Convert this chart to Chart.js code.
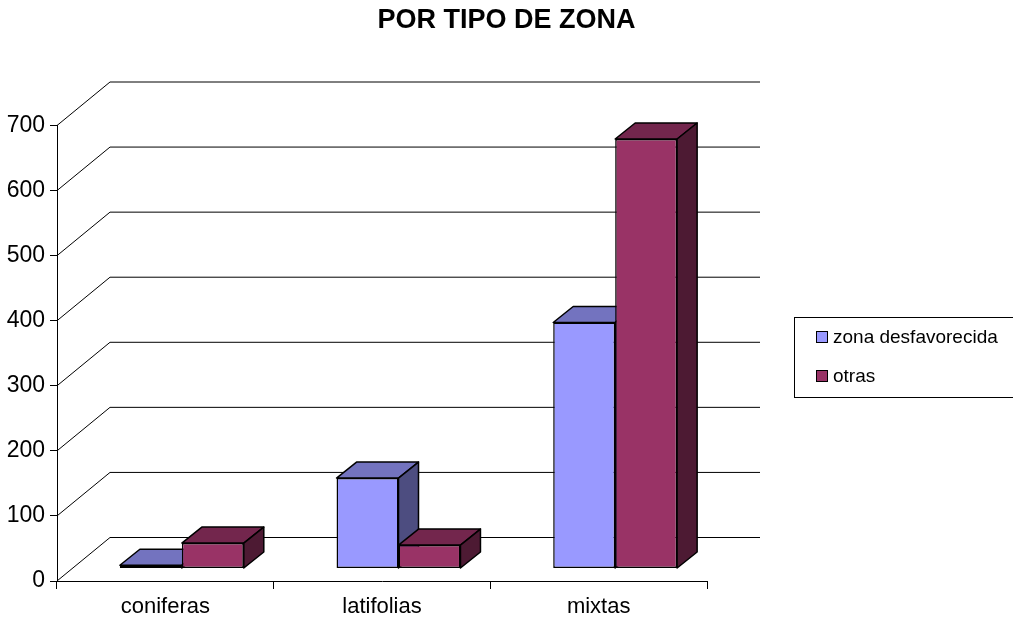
<!DOCTYPE html>
<html lang="es">
<head>
<meta charset="UTF-8" />
<title>Por tipo de zona</title>
<script src="https://cdn.jsdelivr.net/npm/chart.js"></script>
<style>
  html, body { margin: 0; padding: 0; background: #fff; }
  canvas { display: block; }
</style>
</head>
<body>
<canvas id="zonaChart" width="1013" height="621"></canvas>
<script>
  const categories = ['coniferas', 'latifolias', 'mixtas'];
  const seriesNames = ['zona desfavorecida', 'otras'];
  const zonaDesfavorecida = [5, 139, 378];
  const otras = [39, 36, 660];
  const yMax = 700;
  const yStep = 100;
  const chartTitle = 'POR TIPO DE ZONA';

  const FONT = 'Arial, "Liberation Sans", sans-serif';
  const colors = ['#9999FF', '#993366'];

  // fake 3d: offsets in pixels
  const WALL = { dx: 53, dy: -43.5 };      // front plane -> back wall
  const BAR_POS = { dx: 16.5, dy: -12.5 }; // front plane -> bar front faces
  const BAR_DEPTH = { dx: 20, dy: -16 };   // bar front -> bar back

  function shade(hex, f) {
    const n = parseInt(hex.slice(1), 16);
    const r = Math.round(((n >> 16) & 255) * f);
    const g = Math.round(((n >> 8) & 255) * f);
    const b = Math.round((n & 255) * f);
    return `rgb(${r},${g},${b})`;
  }

  function poly(ctx, pts, fill) {
    ctx.beginPath();
    ctx.moveTo(pts[0][0], pts[0][1]);
    for (let i = 1; i < pts.length; i++) ctx.lineTo(pts[i][0], pts[i][1]);
    ctx.closePath();
    ctx.fillStyle = fill;
    ctx.fill();
    ctx.stroke();
  }

  const bars3d = {
    id: 'bars3d',
    beforeDatasetsDraw(chart) {
      // left wall diagonals + back wall gridlines
      const { ctx, chartArea, scales: { y } } = chart;
      ctx.save();
      ctx.strokeStyle = '#000';
      ctx.lineWidth = 1;
      for (let v = 0; v <= yMax; v += yStep) {
        const py = y.getPixelForValue(v);
        ctx.beginPath();
        ctx.moveTo(chartArea.left, py);
        ctx.lineTo(chartArea.left + WALL.dx, py + WALL.dy);
        ctx.lineTo(chartArea.right + WALL.dx, py + WALL.dy);
        ctx.stroke();
      }
      ctx.restore();
    },
    // bars are painted below, category by category, so the boxes overlap correctly
    beforeDatasetDraw() {
      return false;
    },
    afterDatasetsDraw(chart) {
      const ctx = chart.ctx;
      const metas = chart.data.datasets.map((ds, i) => chart.getDatasetMeta(i));
      const dx = BAR_DEPTH.dx, dy = BAR_DEPTH.dy;
      ctx.save();
      ctx.translate(BAR_POS.dx, BAR_POS.dy);
      categories.forEach((c, j) => {
        metas.forEach((meta, i) => {
          const bar = meta.data[j];
          const col = chart.data.datasets[i].backgroundColor;
          bar.draw(ctx);
          const { x, y, base, width } = bar.getProps(['x', 'y', 'base', 'width'], true);
          const x0 = x - width / 2, x1 = x + width / 2;
          ctx.lineWidth = 1.5;
          ctx.lineJoin = 'round';
          ctx.strokeStyle = '#000';
          poly(ctx, [[x0, y], [x0 + dx, y + dy], [x1 + dx, y + dy], [x1, y]], shade(col, 0.75));
          poly(ctx, [[x1, y], [x1 + dx, y + dy], [x1 + dx, base + dy], [x1, base]], shade(col, 0.5));
        });
      });
      ctx.restore();
    },
    afterDraw(chart) {
      const ctx = chart.ctx;
      ctx.save();
      ctx.fillStyle = '#000';
      ctx.font = `bold 27px ${FONT}`;
      ctx.textAlign = 'center';
      ctx.textBaseline = 'middle';
      ctx.fillText(chartTitle, chart.width / 2, 21);

      // legend box
      ctx.strokeStyle = '#000';
      ctx.lineWidth = 1;
      ctx.strokeRect(794.5, 317.5, 240, 80);
      ctx.font = `19px ${FONT}`;
      ctx.textAlign = 'left';
      chart.data.datasets.forEach((ds, i) => {
        const cy = 337 + i * 39;
        ctx.fillStyle = ds.backgroundColor;
        ctx.fillRect(816.5, cy - 5.5, 11, 11);
        ctx.strokeRect(816.5, cy - 5.5, 11, 11);
        ctx.fillStyle = '#000';
        ctx.fillText(ds.label, 833, cy + 1);
      });
      ctx.restore();
    }
  };

  new Chart(document.getElementById('zonaChart'), {
    type: 'bar',
    data: {
      labels: categories,
      datasets: [
        { label: seriesNames[0], data: zonaDesfavorecida, backgroundColor: colors[0] },
        { label: seriesNames[1], data: otras, backgroundColor: colors[1] }
      ]
    },
    options: {
      responsive: false,
      animation: false,
      devicePixelRatio: 1,
      layout: { padding: { top: 125.5, right: 306, bottom: 0, left: 0 } },
      datasets: {
        bar: {
          categoryPercentage: 0.572,
          barPercentage: 1,
          borderColor: '#000',
          borderWidth: 1.5,
          borderSkipped: false,
          clip: false
        }
      },
      plugins: {
        legend: { display: false },
        title: { display: false },
        tooltip: { enabled: false }
      },
      scales: {
        x: {
          afterFit: s => { s.height = 40; },
          grid: { drawOnChartArea: false, tickLength: 8, color: '#000', offset: true },
          border: { color: '#000' },
          ticks: { color: '#000', font: { family: FONT, size: 22 }, padding: 5 }
        },
        y: {
          min: 0,
          max: yMax,
          afterFit: s => { s.width = 57; },
          grid: { drawOnChartArea: false, tickLength: 7, color: '#000' },
          border: { color: '#000' },
          ticks: { stepSize: yStep, color: '#000', font: { family: FONT, size: 23 }, padding: 5 }
        }
      }
    },
    plugins: [bars3d]
  });
</script>
</body>
</html>
